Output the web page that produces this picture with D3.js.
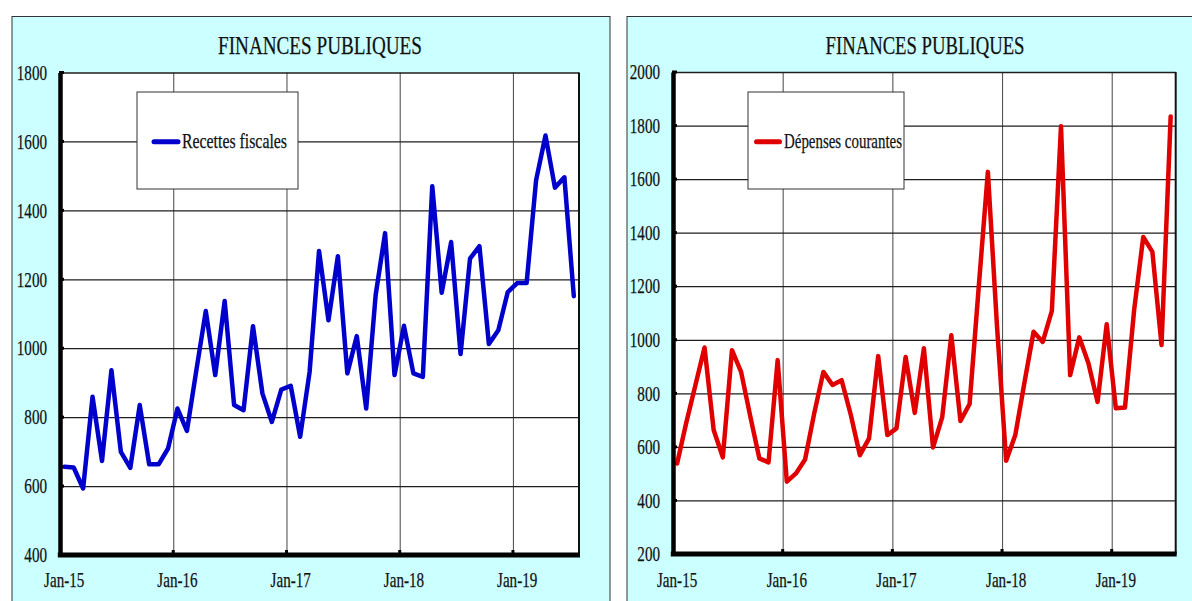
<!DOCTYPE html>
<html>
<head>
<meta charset="utf-8">
<script src="https://cdn.jsdelivr.net/npm/d3@7/dist/d3.min.js"></script>
<style>
  html, body { margin: 0; padding: 0; background: #ffffff; }
  svg { display: block; }
  text { font-family: "Liberation Serif", "Times New Roman", serif; fill: #111; stroke: #111; stroke-width: 0.25px; }
</style>
</head>
<body>
<svg id="chart" width="1192" height="601"></svg>
<script>
// ---------------- DATA ----------------
const chartTitle = "FINANCES PUBLIQUES";
const xTickMonths = [0, 12, 24, 36, 48];
const xTickLabels = ["Jan-15", "Jan-16", "Jan-17", "Jan-18", "Jan-19"];

const recettesName = "Recettes fiscales";
const recettesFiscales = [
  656, 654, 593, 859, 673, 936, 699, 653, 835, 663, 663, 709,
  825, 760, 936, 1108, 922, 1137, 835, 820, 1064, 869, 786, 880,
  891, 743, 931, 1282, 1081, 1267, 927, 1035, 825, 1154, 1334, 922,
  1065, 927, 917, 1470, 1161, 1308, 983, 1260, 1296, 1012, 1052, 1163,
  1189, 1189, 1487, 1617, 1466, 1496, 1151
];
const recettesTicks = [400, 600, 800, 1000, 1200, 1400, 1600, 1800];

const depensesName = "Dépenses courantes";
const depensesCourantes = [
  538, 690, 830, 971, 663, 561, 961, 880, 715, 557, 542, 924,
  470, 501, 553, 725, 880, 831, 849, 720, 569, 632, 939, 644,
  669, 936, 727, 968, 598, 710, 1017, 697, 760, 1197, 1627, 1050,
  548, 644, 840, 1030, 992, 1108, 1797, 868, 1009, 912, 768, 1058,
  744, 747, 1110, 1384, 1328, 980, 1834
];
const depensesTicks = [200, 400, 600, 800, 1000, 1200, 1400, 1600, 1800, 2000];

// ---------------- LAYOUT ----------------
const svg = d3.select("#chart");
svg.append("rect").attr("width", 1192).attr("height", 601).attr("fill", "#ffffff");

const monthOffset = 0.45;   // points sit mid-month
const nMonths = 55;

function condense(sel, factor) {
  sel.each(function () {
    const w = this.getComputedTextLength();
    this.setAttribute("textLength", (w * factor).toFixed(1));
    this.setAttribute("lengthAdjust", "spacingAndGlyphs");
  });
}

const panels = [
  {
    panel: { x: 12, y: 16.5, w: 598, h: 600 },
    plot: { left: 60, right: 579, top: 72.5, bottom: 555 },
    titleX: 320, titleW: 204,
    values: recettesFiscales, ticks: recettesTicks,
    color: "#0000cc", name: recettesName,
    legend: { x: 137, y: 92, w: 161, h: 97, s1: 154, s2: 178, tx: 182, textW: 105 }
  },
  {
    panel: { x: 627, y: 16.5, w: 600, h: 600 },
    plot: { left: 673, right: 1175.7, top: 72, bottom: 554 },
    titleX: 925, titleW: 199,
    values: depensesCourantes, ticks: depensesTicks,
    color: "#e00000", name: depensesName,
    legend: { x: 748, y: 92, w: 156, h: 97, s1: 756.5, s2: 779.5, tx: 784, textW: 118 }
  }
];

panels.forEach(cfg => {
  const g = svg.append("g");
  const p = cfg.plot;

  g.append("rect")
    .attr("x", cfg.panel.x).attr("y", cfg.panel.y)
    .attr("width", cfg.panel.w).attr("height", cfg.panel.h)
    .attr("fill", "#ccffff").attr("stroke", "#333").attr("stroke-width", 1);

  g.append("text")
    .attr("x", cfg.titleX).attr("y", 54)
    .attr("text-anchor", "middle")
    .attr("font-size", 26)
    .attr("textLength", cfg.titleW).attr("lengthAdjust", "spacingAndGlyphs")
    .text(chartTitle);

  const x = d3.scaleLinear().domain([0, nMonths]).range([p.left, p.right]);
  const y = d3.scaleLinear().domain([d3.min(cfg.ticks), d3.max(cfg.ticks)]).range([p.bottom, p.top]);

  g.append("rect")
    .attr("x", p.left).attr("y", p.top)
    .attr("width", p.right - p.left).attr("height", p.bottom - p.top)
    .attr("fill", "#ffffff");

  const vg = g.append("g")
    .attr("transform", `translate(0,${p.bottom})`)
    .call(d3.axisBottom(x).tickValues(xTickMonths.filter(m => m > 0))
      .tickSize(-(p.bottom - p.top)).tickFormat(""));
  vg.select(".domain").remove();
  vg.selectAll("line").attr("stroke", "#555").attr("stroke-width", 1.1);

  const hg = g.append("g")
    .attr("transform", `translate(${p.left},0)`)
    .call(d3.axisLeft(y).tickValues(cfg.ticks.slice(1))
      .tickSize(-(p.right - p.left)).tickFormat(""));
  hg.select(".domain").remove();
  hg.selectAll("line").attr("stroke", "#1e1e1e").attr("stroke-width", 1.3);

  g.append("line")
    .attr("x1", p.right).attr("x2", p.right)
    .attr("y1", p.top).attr("y2", p.bottom)
    .attr("stroke", "#111").attr("stroke-width", 2);

  const L = cfg.legend;
  g.append("rect")
    .attr("x", L.x).attr("y", L.y).attr("width", L.w).attr("height", L.h)
    .attr("fill", "#ffffff").attr("stroke", "#333").attr("stroke-width", 1);
  g.append("line")
    .attr("x1", L.s1).attr("x2", L.s2)
    .attr("y1", L.y + 49.7).attr("y2", L.y + 49.7)
    .attr("stroke", cfg.color).attr("stroke-width", 5).attr("stroke-linecap", "round");
  g.append("text")
    .attr("x", L.tx).attr("y", L.y + 56)
    .attr("font-size", 21)
    .attr("textLength", L.textW).attr("lengthAdjust", "spacingAndGlyphs")
    .text(cfg.name);

  const line = d3.line()
    .x((d, i) => x(i + monthOffset))
    .y(d => y(d));
  g.append("path")
    .datum(cfg.values)
    .attr("d", line)
    .attr("fill", "none")
    .attr("stroke", cfg.color)
    .attr("stroke-width", 4.5)
    .attr("stroke-linejoin", "round")
    .attr("stroke-linecap", "round");

  const ya = g.append("g")
    .attr("transform", `translate(${p.left},0)`)
    .call(d3.axisLeft(y).tickValues(cfg.ticks).tickSize(0).tickPadding(13).tickFormat(d3.format("d")));
  ya.select(".domain").attr("stroke", "#000").attr("stroke-width", 4.5);
  ya.selectAll("text")
    .attr("font-size", 21)
    .attr("font-family", "Liberation Serif, serif")
    .attr("fill", "#111");
  condense(ya.selectAll("text"), 0.72);
  g.append("g").selectAll("line").data(cfg.ticks).join("line")
    .attr("x1", p.left - 1).attr("x2", p.left + 4)
    .attr("y1", d => y(d)).attr("y2", d => y(d))
    .attr("stroke", "#000").attr("stroke-width", 3);

  g.append("line")
    .attr("x1", p.left - 2.2).attr("x2", p.right + 1)
    .attr("y1", p.bottom).attr("y2", p.bottom)
    .attr("stroke", "#000").attr("stroke-width", 5);
  g.append("g").selectAll("line").data(xTickMonths.filter(m => m > 0)).join("line")
    .attr("x1", d => x(d)).attr("x2", d => x(d))
    .attr("y1", p.bottom).attr("y2", p.bottom - 5)
    .attr("stroke", "#000").attr("stroke-width", 3);

  const xl = g.append("g").selectAll("text").data(xTickMonths).join("text")
    .attr("x", d => x(d + monthOffset))
    .attr("y", 587)
    .attr("text-anchor", "middle")
    .attr("font-size", 21)
    .text((d, i) => xTickLabels[i]);
  condense(xl, 0.72);
});
</script>
</body>
</html>
